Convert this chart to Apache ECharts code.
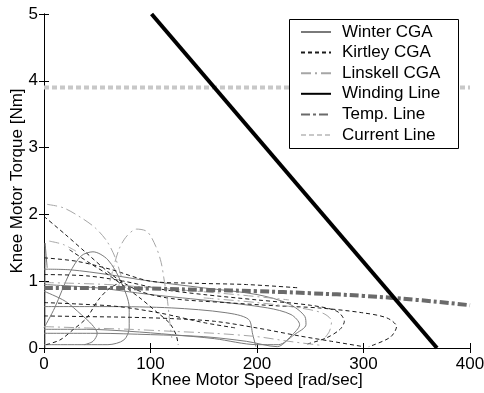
<!DOCTYPE html>
<html>
<head>
<meta charset="utf-8">
<script src="https://cdn.jsdelivr.net/npm/echarts@6/dist/echarts.min.js"></script>
<style>
  html, body { margin: 0; padding: 0; background: #fff; }
  #chart { width: 484px; height: 393px; }
</style>
</head>
<body>
<div id="chart"></div>
<script>
// Axis ranges and ticks
const xTicks = [0, 100, 200, 300, 400];
const yTicks = [0, 1, 2, 3, 4, 5];

// Winter CGA torque-speed loops [speed rad/s, torque Nm]
const winterLoop1 = [[0,1.18],[25,1.17],[60,1.1],[100,1.0],[150,0.9],[200,0.8],[230,0.66],[245,0.47],[246,0.35],[235,0.2],[220,0.05],[200,0.05],[160,0.14],[120,0.2],[80,0.25],[40,0.28],[0,0.28]];
const winterLoop2 = [[0,0.62],[60,0.62],[120,0.6],[170,0.53],[192,0.43],[196,0.2],[199,0.02]];
const winterLoop3 = [[0,0.3],[10,0.6],[24,1.12],[35,1.38],[46,1.44],[60,1.32],[72,1.0],[80,0.6],[80,0.3],[75,0.12],[60,0.05],[40,0.05],[0,0.05]];
const winterLoop4 = [[0,0.85],[20,0.7],[35,0.5],[45,0.35],[50,0.22],[46,0.1],[38,0.05]];
const winterLoop5 = [[0,0.95],[50,0.9],[100,0.8],[160,0.7],[210,0.6],[232,0.5],[240,0.35],[232,0.18],[219,0.02],[190,0.1],[150,0.17],[100,0.2],[50,0.22],[0,0.22]];
const winterLoop6 = [[1,0],[1,1.57],[3,1.2]];

// Kirtley CGA loops
const kirtleyLoop1 = [[0,1.97],[20,1.7],[40,1.42],[65,1.08],[90,0.85],[120,0.74],[170,0.68],[220,0.63],[258,0.6],[298,0.53],[322,0.45],[331,0.32],[325,0.16],[305,0.02]];
const kirtleyLoop2 = [[0,1.35],[30,1.3],[62,1.18],[100,1.0],[140,0.97],[190,0.95],[240,0.9]];
const kirtleyLoop3 = [[0,1.1],[40,1.08],[75,1.0],[110,0.88],[150,0.8],[200,0.72],[250,0.64],[275,0.55],[282,0.4],[278,0.28],[265,0.15],[245,0.05]];
const kirtleyLoop4 = [[0,0.48],[40,0.47],[80,0.46],[120,0.44],[160,0.4],[200,0.3],[240,0.18],[270,0.1],[300,0.02]];
const kirtleyLoop5 = [[2,0.05],[15,0.12],[27,0.27],[40,0.45],[51,0.72],[62,0.9],[75,1.0]];
const kirtleyLoop6 = [[24,1.47],[45,1.25],[60,1.1],[90,0.75],[105,0.55],[118,0.37],[124,0.2],[126,0.05]];
const kirtleyLoop7 = [[0,0.68],[30,0.66],[70,0.62],[110,0.52],[150,0.38],[180,0.3]];

// Linskell CGA loops
const linskellLoop1 = [[3,2.15],[18,2.1],[34,1.96],[48,1.8],[59,1.6],[67,1.35],[72,1.1],[76,0.9]];
const linskellLoop2 = [[62,1.0],[66,1.25],[71,1.5],[78,1.68],[87,1.78],[97,1.74],[105,1.52],[110,1.28],[113,1.0],[116,0.7],[118,0.4],[120,0.15]];
const linskellLoop3 = [[0,0.32],[40,0.3],[80,0.28],[120,0.25],[160,0.22],[200,0.17],[230,0.1],[260,0.04]];
const linskellLoop4 = [[150,0.75],[200,0.68],[240,0.6],[262,0.52],[270,0.4],[268,0.25],[262,0.12]];
const linskellLoop5 = [[5,1.6],[18,1.55],[30,1.45]];
const linskellLoop6 = [[0,0.98],[60,0.95],[120,0.88],[180,0.8],[230,0.72]];

// Motor limit lines
const windingLine = [[101,5],[369,0]];
const tempSpeeds = [0, 50, 100, 150, 200, 250, 300, 350, 400];
const tempTorques = [0.90, 0.90, 0.89, 0.87, 0.85, 0.82, 0.78, 0.72, 0.64];
const currentSpeeds = [0, 400];
const currentTorques = [3.9, 3.9];

const FONT = 'Liberation Sans, Arial, Helvetica, sans-serif';

const winterStyle = { color: '#7a7a7a', width: 1, type: 'solid' };
const kirtleyStyle = { color: '#1a1a1a', width: 1, type: [4, 3] };
const linskellStyle = { color: '#a6a6a6', width: 1, type: [10, 4, 2, 4] };

function loopSeries(name, data, style) {
  return {
    name: name,
    type: 'line',
    data: data,
    showSymbol: false,
    symbol: 'none',
    smooth: 0.3,
    lineStyle: style,
    itemStyle: { color: style.color },
    z: 2,
    silent: true
  };
}

const series = [];
[winterLoop1, winterLoop2, winterLoop3, winterLoop4, winterLoop5, winterLoop6]
  .forEach(d => series.push(loopSeries('Winter CGA', d, winterStyle)));
[kirtleyLoop1, kirtleyLoop2, kirtleyLoop3, kirtleyLoop4, kirtleyLoop5, kirtleyLoop6, kirtleyLoop7]
  .forEach(d => series.push(loopSeries('Kirtley CGA', d, kirtleyStyle)));
[linskellLoop1, linskellLoop2, linskellLoop3, linskellLoop4, linskellLoop5, linskellLoop6]
  .forEach(d => series.push(loopSeries('Linskell CGA', d, linskellStyle)));

series.push({
  name: 'Winding Line', type: 'line', data: windingLine, symbol: 'none',
  lineStyle: { color: '#000', width: 4 }, itemStyle: { color: '#000' }, z: 5
});
series.push({
  name: 'Temp. Line', type: 'line', symbol: 'none', smooth: true,
  data: tempSpeeds.map((s, i) => [s, tempTorques[i]]),
  lineStyle: { color: '#6a6a6a', width: 4, type: [9, 3, 3, 3] },
  itemStyle: { color: '#6a6a6a' }, z: 4
});
series.push({
  name: 'Current Line', type: 'line', symbol: 'none',
  data: currentSpeeds.map((s, i) => [s, currentTorques[i]]),
  lineStyle: { color: '#c8c8c8', width: 4, type: [5, 3] },
  itemStyle: { color: '#c8c8c8' }, z: 4
});

const axisLine = { show: true, lineStyle: { color: '#000', width: 1 } };
const tickInside = { show: true, inside: true, length: 5, lineStyle: { color: '#000' } };

const option = {
  animation: false,
  backgroundColor: '#fff',
  grid: { left: 44, right: 14, top: 14, bottom: 45, containLabel: false, outerBoundsMode: 'none' },
  // legend frame
  graphic: [{
    type: 'rect', z: 8, silent: true,
    shape: { x: 289.5, y: 19.5, width: 169, height: 129 },
    style: { fill: '#fff', stroke: '#000', lineWidth: 1 }
  }],
  xAxis: [
    {
      type: 'value', min: xTicks[0], max: xTicks[xTicks.length - 1], interval: 100,
      name: 'Knee Motor Speed [rad/sec]', nameLocation: 'middle', nameGap: 24, nameMoveOverlap: false,
      nameTextStyle: { fontFamily: FONT, fontSize: 17, color: '#000' },
      axisLine: axisLine, axisTick: tickInside,
      axisLabel: { fontFamily: FONT, fontSize: 17, color: '#000', margin: 8 },
      splitLine: { show: false }
    },
    {
      type: 'value', position: 'top', min: xTicks[0], max: xTicks[xTicks.length - 1], interval: 100,
      axisLine: axisLine, axisTick: tickInside, axisLabel: { show: false }, splitLine: { show: false }
    }
  ],
  yAxis: [
    {
      type: 'value', min: yTicks[0], max: yTicks[yTicks.length - 1], interval: 1,
      name: 'Knee Motor Torque [Nm]', nameLocation: 'middle', nameGap: 18, nameRotate: 90, nameMoveOverlap: false,
      nameTextStyle: { fontFamily: FONT, fontSize: 17, color: '#000' },
      axisLine: axisLine, axisTick: tickInside,
      axisLabel: { fontFamily: FONT, fontSize: 17, color: '#000', margin: 6 },
      splitLine: { show: false }
    },
    {
      type: 'value', position: 'right', min: yTicks[0], max: yTicks[yTicks.length - 1], interval: 1,
      axisLine: axisLine, axisTick: tickInside, axisLabel: { show: false }, splitLine: { show: false }
    }
  ],
  legend: {
    orient: 'vertical',
    left: 289, top: 19,
    padding: [4.5, 7, 4.5, 11],
    itemWidth: 30, itemHeight: 14, itemGap: 3.6,
    backgroundColor: 'transparent', borderWidth: 0,
    itemStyle: { color: 'rgba(0,0,0,0)', opacity: 0, borderWidth: 0 },
    textStyle: { fontFamily: FONT, fontSize: 17, lineHeight: 17, color: '#000', padding: [0, 0, 0, 6] },
    data: ['Winter CGA', 'Kirtley CGA', 'Linskell CGA', 'Winding Line', 'Temp. Line', 'Current Line'],
    selectedMode: false,
    z: 10
  },
  series: series
};

const chart = echarts.init(document.getElementById('chart'), null, { renderer: 'canvas' });
chart.setOption(option);
</script>
</body>
</html>
